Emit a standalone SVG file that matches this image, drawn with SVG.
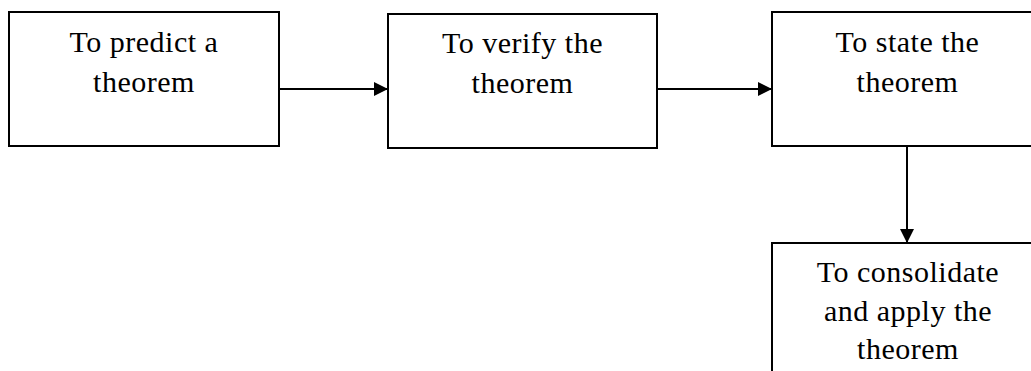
<svg xmlns="http://www.w3.org/2000/svg" width="1031" height="371" viewBox="0 0 1031 371">
<defs>
<style>
.box{fill:#fff;stroke:#000;stroke-width:2}
.lbl{font-family:"Liberation Serif","Times New Roman",serif;font-size:30px;letter-spacing:0.5px;fill:#000;text-anchor:middle}
.con{stroke:#000;stroke-width:2;fill:none}
</style>
<marker id="ah" markerUnits="userSpaceOnUse" markerWidth="14" markerHeight="14" refX="14" refY="7" orient="auto">
<path d="M0,0 L14,7 L0,14 Z" fill="#000"/>
</marker>
</defs>
<rect width="1031" height="371" fill="#fff"/>
<g id="connectors">
<line class="con" x1="279" y1="89" x2="388" y2="89" marker-end="url(#ah)"/>
<line class="con" x1="658" y1="89" x2="772" y2="89" marker-end="url(#ah)"/>
<line class="con" x1="907" y1="146" x2="907" y2="243" marker-end="url(#ah)"/>
</g>
<g id="node1">
<rect class="box" x="9" y="12" width="270" height="134"/>
<text class="lbl" x="144" y="52">To predict a</text>
<text class="lbl" x="144" y="92">theorem</text>
</g>
<g id="node2">
<rect class="box" x="388" y="14" width="269" height="134"/>
<text class="lbl" x="522.5" y="53">To verify the</text>
<text class="lbl" x="522.5" y="93">theorem</text>
</g>
<g id="node3">
<rect class="box" x="772" y="12" width="280" height="134"/>
<text class="lbl" x="907.5" y="52">To state the</text>
<text class="lbl" x="907.5" y="92">theorem</text>
</g>
<g id="node4">
<rect class="box" x="772" y="243" width="280" height="150"/>
<text class="lbl" x="908" y="282">To consolidate</text>
<text class="lbl" x="908" y="321">and apply the</text>
<text class="lbl" x="908" y="359">theorem</text>
</g>
</svg>
